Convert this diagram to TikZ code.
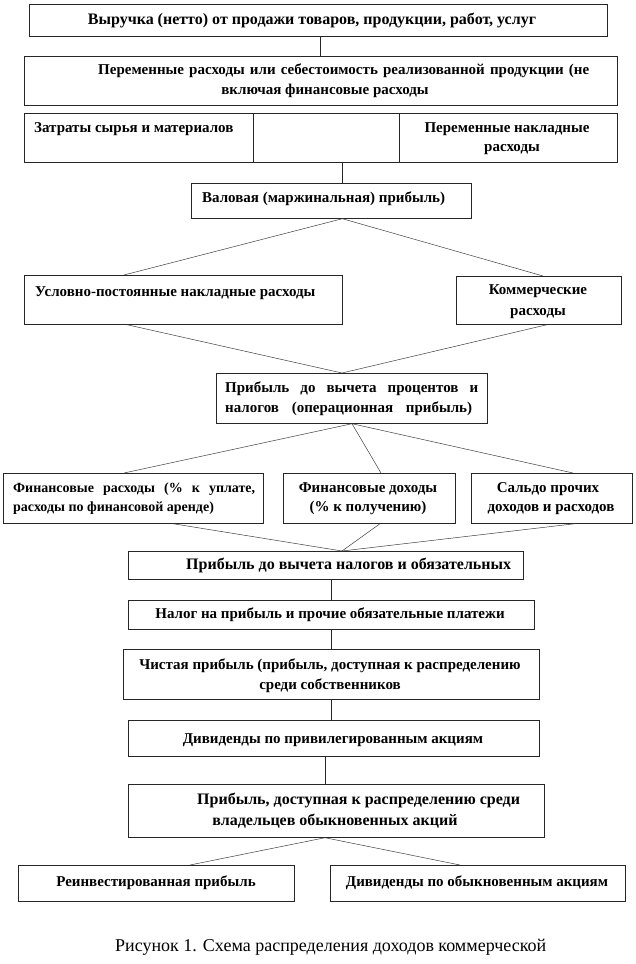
\documentclass[tikz,border=0pt]{standalone}
\usepackage{fontspec}
\setmainfont{Liberation Serif}
\newcommand\mybox[5]{\node[box, anchor=north west, inner sep=0pt, minimum width={(#4-#2)*1pt}, minimum height={(#5-#3)*1pt}] (#1) at (#2,#3) {};}
\begin{document}
\begin{tikzpicture}[x=1pt,y=-1pt,
  box/.style={draw=black!85, line width=0.7pt},
  txt/.style={font=\bfseries\fontsize{15}{18}\selectfont, inner sep=0pt, text height=10.5pt, text depth=3.5pt},
  txtbig/.style={txt, font=\bfseries\fontsize{16}{19}\selectfont},
  txtsm/.style={txt, font=\bfseries\fontsize{14}{17}\selectfont},
  captxt/.style={font=\fontsize{18}{21}\selectfont, inner sep=0pt, text height=12pt, text depth=4pt},
  conn/.style={draw=black!85, line width=0.6pt},
  diag/.style={draw=black!75, line width=0.5pt}]
\fill[white] (0,0) rectangle (635,964);
\useasboundingbox (0,0) rectangle (635,964);

% boxes
\mybox{b1}{29}{4}{607}{36}
\mybox{b2}{24}{56}{617}{105}
\mybox{b3}{24}{113}{617}{162}
\mybox{b4}{191}{183}{471}{218}
\mybox{b5}{24}{275}{342}{324}
\mybox{b6}{456}{276}{621}{324}
\mybox{b8}{216}{373}{487}{423}
\mybox{b7}{3}{473}{263}{523}
\mybox{bm}{283}{473}{455}{523}
\mybox{b9}{471}{473}{632}{523}
\mybox{b10}{128}{551}{523}{579}
\mybox{b11}{128}{600}{534}{629}
\mybox{b12}{123}{649}{539}{699}
\mybox{b13}{128}{720}{539}{756}
\mybox{b14}{128}{784}{544}{837}
\mybox{b15}{18}{865}{294}{901}
\mybox{b16}{330}{865}{625}{901}

% cell dividers in b3
\draw[box] ([xshift=229pt]b3.north west) -- ([xshift=229pt]b3.south west);
\draw[box] ([xshift=375pt]b3.north west) -- ([xshift=375pt]b3.south west);

% texts
\node[txtbig] (t1) at (312,21) {Выручка (нетто) от продажи товаров, продукции, работ, услуг};
\node[txt, anchor=west] (t2a) at (98,71) {\makebox[491pt][s]{Переменные расходы или себестоимость реализованной продукции (не}};
\node[txt] (t2b) at (325,91) {включая финансовые расходы};
\node[txt, anchor=west] (t3a) at (34,129) {Затраты сырья и материалов};
\node[txt] (t3b) at (507,129) {Переменные накладные};
\node[txt] (t3c) at (512,148) {расходы};
\node[txt, anchor=west] (t4) at (202,199) {Валовая (маржинальная) прибыль)};
\node[txt, anchor=west] (t5) at (35,293) {Условно-постоянные накладные расходы};
\node[txt] (t6a) at (538,291) {Коммерческие};
\node[txt] (t6b) at (538,312) {расходы};
\node[txt, anchor=west] (t8a) at (225,389) {\makebox[253pt][s]{Прибыль до вычета процентов и}};
\node[txt, anchor=west] (t8b) at (225,409) {\makebox[247pt][s]{налогов (операционная прибыль)}};
\node[txtsm, anchor=west] (t7a) at (13,489) {\makebox[242pt][s]{Финансовые расходы (\% к уплате,}};
\node[txtsm, anchor=west] (t7b) at (13,508) {расходы по финансовой аренде)};
\node[txt] (tma) at (368,489) {Финансовые доходы};
\node[txt] (tmb) at (368,508) {(\% к получению)};
\node[txt] (t9a) at (548,489) {Сальдо прочих};
\node[txt] (t9b) at (551,508) {доходов и расходов};
\node[txtbig, anchor=west] (t10) at (186,566) {Прибыль до вычета налогов и обязательных};
\node[txt] (t11) at (330,615) {Налог на прибыль и прочие обязательные платежи};
\node[txt] (t12a) at (330,666) {Чистая прибыль (прибыль, доступная к распределению};
\node[txt] (t12b) at (330,686) {среди собственников};
\node[txt] (t13) at (333,740) {Дивиденды по привилегированным акциям};
\node[txtbig, anchor=west] (t14a) at (197,801) {Прибыль, доступная к распределению среди};
\node[txtbig] (t14b) at (335,822) {владельцев обыкновенных акций};
\node[txt] (t15) at (156,883) {Реинвестированная прибыль};
\node[txt] (t16) at (477,883) {Дивиденды по обыкновенным акциям};
\node[captxt, anchor=west] (capt) at (115,947) {Рисунок 1. Схема распределения доходов коммерческой};

% connectors
\draw[conn] ([xshift=2pt]b1.south) -- ([xshift=2pt]b1.south |- b2.north);
\draw[conn] ([xshift=21.5pt]b3.south) -- ([xshift=21.5pt]b3.south |- b4.north);
\draw[diag] ([xshift=11pt]b4.south) -- ([xshift=100pt]b5.north west);
\draw[diag] ([xshift=11pt]b4.south) -- ([xshift=87pt]b6.north west);
\draw[diag] ([xshift=103pt]b5.south west) -- ([xshift=126pt]b8.north west);
\draw[diag] ([xshift=91pt]b6.south west) -- ([xshift=126pt]b8.north west);
\draw[diag] ([xshift=136pt]b8.south west) -- ([xshift=121pt]b7.north west);
\draw[diag] ([xshift=136pt]b8.south west) -- ([xshift=98pt]bm.north west);
\draw[diag] ([xshift=136pt]b8.south west) -- ([xshift=102pt]b9.north west);
\draw[diag] ([xshift=170pt]b7.south west) -- ([xshift=214pt]b10.north west);
\draw[diag] ([xshift=97pt]bm.south west) -- ([xshift=214pt]b10.north west);
\draw[diag] ([xshift=104pt]b9.south west) -- ([xshift=214pt]b10.north west);
\draw[conn] ([xshift=203pt]b10.south west) -- ([xshift=203pt]b10.south west |- b11.north);
\draw[conn] ([xshift=203pt]b11.south west) -- ([xshift=203pt]b11.south west |- b12.north);
\draw[conn] ([xshift=208pt]b12.south west) -- ([xshift=208pt]b12.south west |- b13.north);
\draw[conn] ([xshift=197pt]b13.south west) -- ([xshift=197pt]b13.south west |- b14.north);
\draw[diag] ([xshift=197pt]b14.south west) -- ([xshift=172pt]b15.north west);
\draw[diag] ([xshift=197pt]b14.south west) -- ([xshift=130pt]b16.north west);
\end{tikzpicture}
\end{document}
